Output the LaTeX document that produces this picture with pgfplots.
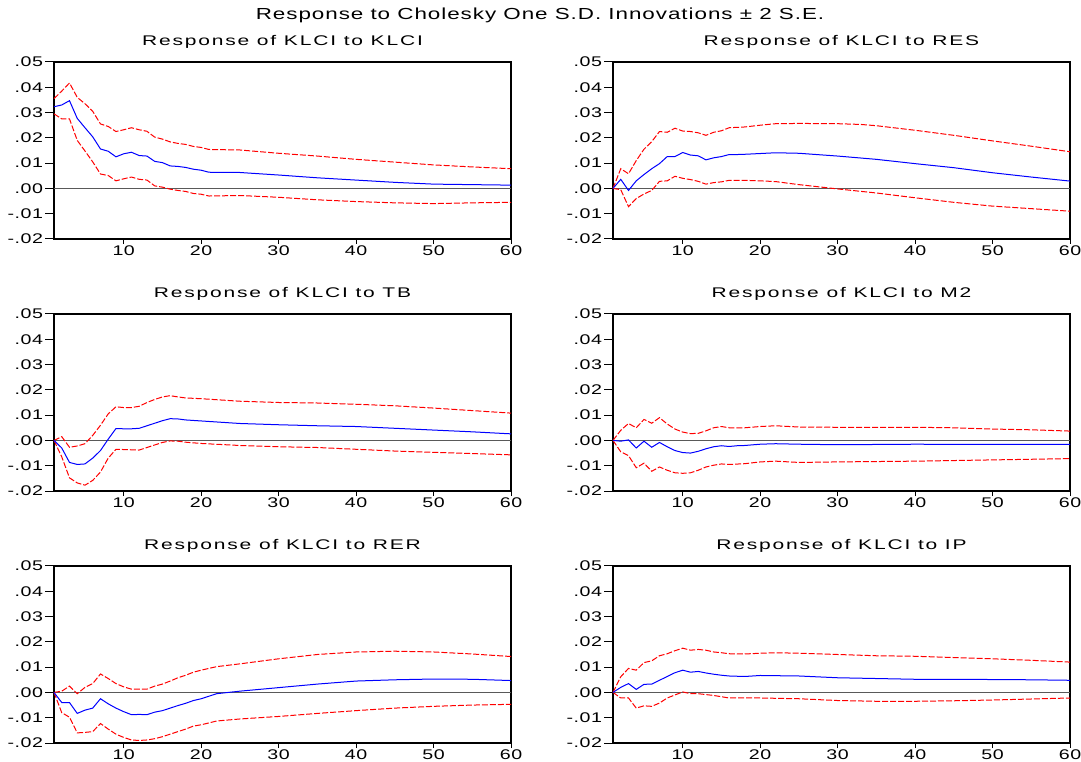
\documentclass[border=0pt]{standalone}
\usepackage{pgfplots}
\pgfplotsset{compat=1.18}
\usepackage{fontspec}
\setmainfont{Liberation Sans}
% the EViews text is set wide: stretch it
\newfontfamily\maintitlefont[FakeStretch=1.4,LetterSpace=6]{Liberation Sans}
\newfontfamily\paneltitlefont[FakeStretch=1.5,LetterSpace=13]{Liberation Sans}
\newfontfamily\tickfont[FakeStretch=1.4,LetterSpace=4]{Liberation Sans}

\pgfplotsset{
  irf/.style={
    scale only axis,
    width=228.5pt, height=88.5pt,
    xmin=1, xmax=60, ymin=-0.02, ymax=0.05,
    scaled y ticks=false,
    xtick={10,20,30,40,50,60},
    xticklabels={10,20,30,40,50,60},
    ytick={-0.02,-0.01,0,0.01,0.02,0.03,0.04,0.05},
    yticklabels={-.02,-.01,.00,.01,.02,.03,.04,.05},
    tick pos=left,
    tick align=outside,
    major tick length=4.3pt,
    xtick style={/pgfplots/major tick length=2.5pt},
    axis line style={line width=0.8pt},
    every tick/.style={black, line width=0.5pt},
    ticklabel style={font=\tickfont\fontsize{7}{8}\selectfont},
    xticklabel style={inner sep=0.5pt, yshift=1.5pt},
    yticklabel style={inner sep=1pt},
    title style={font=\paneltitlefont\fontsize{7}{8}\selectfont, yshift=-2.5pt},
    clip=false,
    anchor=south west,
  },
  resp/.style={blue, line width=0.5pt},
  band/.style={red, line width=0.5pt, dash pattern=on 3pt off 1pt},
  zero/.style={black!65, line width=0.45pt},
}

\begin{document}
\begin{tikzpicture}
\useasboundingbox (0,0) rectangle (540.5pt,380.5pt);
\node[font=\maintitlefont\fontsize{8}{10}\selectfont] at (270pt,373pt) {Response to Cholesky One S.D. Innovations ± 2 S.E.};

% row 1 left
\begin{axis}[irf, at={(27pt,261pt)}, title={Response of KLCI to KLCI}]
\addplot[zero] coordinates {(1,0) (60,0)};
\addplot[band] coordinates {(1,0.0355) (2,0.0385) (3,0.0417) (4,0.036) (5,0.0335) (6,0.0305) (7,0.0255) (8,0.0245) (9,0.0225) (10,0.0232) (11,0.024) (12,0.0232) (13,0.0226) (14,0.0203) (15,0.0195) (16,0.0184) (17,0.0178) (18,0.0174) (19,0.0166) (20,0.0162) (21,0.0154) (25,0.0152) (30,0.0139) (35,0.0128) (40,0.0115) (45,0.0104) (50,0.0093) (55,0.0085) (60,0.0078)};
\addplot[band] coordinates {(1,0.0295) (2,0.0275) (3,0.0275) (4,0.019) (5,0.0148) (6,0.0105) (7,0.0057) (8,0.0051) (9,0.003) (10,0.0038) (11,0.0045) (12,0.0036) (13,0.0033) (14,0.001) (15,0.0005) (16,-0.0003) (17,-0.0008) (18,-0.0012) (19,-0.002) (20,-0.0023) (21,-0.003) (25,-0.0028) (30,-0.0035) (35,-0.0045) (40,-0.0052) (45,-0.0057) (50,-0.006) (55,-0.0057) (60,-0.0055)};
\addplot[resp] coordinates {(1,0.0323) (2,0.033) (3,0.0347) (4,0.0277) (5,0.024) (6,0.0204) (7,0.0156) (8,0.0147) (9,0.0125) (10,0.0137) (11,0.0143) (12,0.013) (13,0.0128) (14,0.0107) (15,0.0102) (16,0.0089) (17,0.0087) (18,0.0083) (19,0.0076) (20,0.0072) (21,0.0064) (25,0.0063) (30,0.0053) (35,0.0042) (40,0.0033) (45,0.0024) (50,0.0017) (55,0.0015) (60,0.0013)};
\end{axis}

% row 1 right
\begin{axis}[irf, at={(306.5pt,261pt)}, title={Response of KLCI to RES}]
\addplot[zero] coordinates {(1,0) (60,0)};
\addplot[band] coordinates {(1,0) (2,0.0078) (3,0.0058) (4,0.011) (5,0.0155) (6,0.0185) (7,0.0225) (8,0.0222) (9,0.0238) (10,0.0227) (11,0.0225) (12,0.022) (13,0.021) (14,0.0222) (15,0.0228) (16,0.024) (18,0.0243) (20,0.025) (22,0.0256) (25,0.0257) (30,0.0256) (33,0.0253) (35,0.0248) (40,0.023) (45,0.021) (50,0.0188) (55,0.0167) (60,0.0145)};
\addplot[band] coordinates {(1,0) (2,-0.0005) (3,-0.0072) (4,-0.004) (5,-0.0022) (6,-0.0008) (7,0.0028) (8,0.003) (9,0.0048) (10,0.004) (11,0.0035) (12,0.0028) (13,0.0017) (14,0.0023) (15,0.0026) (16,0.0032) (18,0.0032) (20,0.003) (22,0.0027) (25,0.0015) (30,-0.0002) (35,-0.0018) (40,-0.0037) (45,-0.0055) (50,-0.007) (55,-0.008) (60,-0.009)};
\addplot[resp] coordinates {(1,0) (2,0.0036) (3,-0.0008) (4,0.003) (5,0.0055) (6,0.0078) (7,0.0098) (8,0.0126) (9,0.0126) (10,0.0142) (11,0.0132) (12,0.0129) (13,0.0113) (14,0.0121) (15,0.0126) (16,0.0134) (17,0.0134) (18,0.0135) (20,0.0138) (22,0.0141) (25,0.0139) (30,0.0128) (35,0.0115) (40,0.0098) (45,0.0082) (50,0.0062) (55,0.0045) (60,0.0029)};
\end{axis}

% row 2 left
\begin{axis}[irf, at={(27pt,135pt)}, title={Response of KLCI to TB}]
\addplot[zero] coordinates {(1,0) (60,0)};
\addplot[band] coordinates {(1,0) (2,0.0015) (3,-0.0027) (4,-0.0022) (5,-0.0013) (6,0.002) (7,0.006) (8,0.0105) (9,0.0133) (10,0.013) (11,0.013) (12,0.0135) (13,0.015) (14,0.0162) (15,0.0172) (16,0.0177) (17,0.0172) (18,0.0168) (20,0.0165) (25,0.0155) (30,0.015) (35,0.0148) (40,0.0143) (45,0.0137) (50,0.0128) (55,0.0118) (60,0.0108)};
\addplot[band] coordinates {(1,0) (2,-0.0065) (3,-0.0148) (4,-0.0168) (5,-0.0177) (6,-0.0158) (7,-0.0125) (8,-0.007) (9,-0.0035) (10,-0.0036) (11,-0.0037) (12,-0.0038) (13,-0.0028) (14,-0.0018) (15,-0.0008) (16,-0.0002) (17,-0.0003) (18,-0.0007) (20,-0.0012) (25,-0.002) (30,-0.0025) (35,-0.0028) (40,-0.0035) (45,-0.0042) (50,-0.0047) (55,-0.0052) (60,-0.0057)};
\addplot[resp] coordinates {(1,0) (2,-0.003) (3,-0.0087) (4,-0.0095) (5,-0.0093) (6,-0.007) (7,-0.004) (8,0.0005) (9,0.0047) (10,0.0046) (11,0.0046) (12,0.0048) (13,0.0058) (14,0.0068) (15,0.0078) (16,0.0086) (17,0.0085) (18,0.0081) (20,0.0077) (25,0.0067) (30,0.0062) (35,0.0058) (40,0.0055) (45,0.0048) (50,0.0041) (55,0.0034) (60,0.0026)};
\end{axis}

% row 2 right
\begin{axis}[irf, at={(306.5pt,135pt)}, title={Response of KLCI to M2}]
\addplot[zero] coordinates {(1,0) (60,0)};
\addplot[band] coordinates {(1,0) (2,0.004) (3,0.0067) (4,0.005) (5,0.0083) (6,0.0068) (7,0.009) (8,0.0065) (9,0.0045) (10,0.0033) (11,0.0027) (12,0.0028) (13,0.0038) (14,0.005) (15,0.0055) (16,0.005) (18,0.005) (20,0.0055) (22,0.0058) (25,0.0053) (30,0.0052) (40,0.0052) (45,0.005) (50,0.0045) (55,0.0042) (60,0.0037)};
\addplot[band] coordinates {(1,0) (2,-0.0045) (3,-0.006) (4,-0.0108) (5,-0.009) (6,-0.0122) (7,-0.0105) (8,-0.0118) (9,-0.0128) (10,-0.013) (11,-0.0128) (12,-0.0118) (13,-0.0105) (14,-0.0098) (15,-0.0093) (16,-0.0095) (18,-0.0092) (20,-0.0085) (22,-0.0082) (25,-0.0087) (30,-0.0085) (40,-0.0082) (50,-0.0077) (60,-0.0072)};
\addplot[resp] coordinates {(1,0) (2,-0.0003) (3,0.0002) (4,-0.003) (5,-0.0003) (6,-0.0027) (7,-0.0008) (8,-0.0025) (9,-0.004) (10,-0.0048) (11,-0.005) (12,-0.0043) (13,-0.0033) (14,-0.0025) (15,-0.0021) (16,-0.0024) (17,-0.0021) (18,-0.002) (20,-0.0015) (22,-0.0013) (25,-0.0015) (30,-0.0017) (40,-0.0015) (50,-0.0016) (60,-0.0016)};
\end{axis}

% row 3 left
\begin{axis}[irf, at={(27pt,9pt)}, title={Response of KLCI to RER}]
\addplot[zero] coordinates {(1,0) (60,0)};
\addplot[band] coordinates {(1,0) (2,0.0005) (3,0.0025) (4,-0.0005) (5,0.002) (6,0.0035) (7,0.0073) (8,0.0055) (9,0.0035) (10,0.0022) (11,0.0013) (12,0.0013) (13,0.0013) (14,0.0025) (15,0.0033) (16,0.0045) (17,0.0058) (18,0.0068) (19,0.008) (20,0.0088) (22,0.0102) (25,0.0113) (30,0.0133) (35,0.015) (40,0.016) (45,0.0163) (50,0.016) (55,0.0152) (60,0.0142)};
\addplot[band] coordinates {(1,0) (2,-0.008) (3,-0.0098) (4,-0.016) (5,-0.0158) (6,-0.0155) (7,-0.0123) (8,-0.0145) (9,-0.0165) (10,-0.0178) (11,-0.0188) (12,-0.019) (13,-0.0188) (14,-0.0183) (15,-0.0175) (16,-0.0165) (17,-0.0155) (18,-0.0145) (19,-0.0133) (20,-0.0128) (22,-0.0113) (25,-0.0105) (30,-0.0095) (35,-0.0083) (40,-0.0072) (45,-0.0062) (50,-0.0055) (55,-0.005) (60,-0.0047)};
\addplot[resp] coordinates {(1,0) (2,-0.004) (3,-0.004) (4,-0.0083) (5,-0.007) (6,-0.0062) (7,-0.0025) (8,-0.0045) (9,-0.0062) (10,-0.0076) (11,-0.0088) (12,-0.0087) (13,-0.0088) (14,-0.0078) (15,-0.0072) (16,-0.0062) (17,-0.0052) (18,-0.0043) (19,-0.0032) (20,-0.0025) (21,-0.0015) (22,-0.0005) (25,0.0005) (30,0.0019) (35,0.0033) (40,0.0045) (45,0.005) (50,0.0053) (55,0.0052) (60,0.0047)};
\end{axis}

% row 3 right
\begin{axis}[irf, at={(306.5pt,9pt)}, title={Response of KLCI to IP}]
\addplot[zero] coordinates {(1,0) (60,0)};
\addplot[band] coordinates {(1,0) (2,0.0062) (3,0.0095) (4,0.0088) (5,0.0118) (6,0.0125) (7,0.0145) (8,0.0153) (9,0.0165) (10,0.0175) (11,0.0167) (12,0.017) (13,0.0167) (14,0.016) (15,0.0157) (16,0.0153) (18,0.0152) (20,0.0155) (22,0.0157) (25,0.0155) (30,0.015) (35,0.0145) (40,0.0143) (45,0.0138) (50,0.0133) (55,0.0127) (60,0.012)};
\addplot[band] coordinates {(1,0) (2,-0.0022) (3,-0.0022) (4,-0.0062) (5,-0.0053) (6,-0.0055) (7,-0.0042) (8,-0.0022) (9,-0.001) (10,0.0002) (11,-0.0005) (12,-0.0005) (14,-0.0012) (16,-0.0022) (20,-0.0022) (25,-0.0025) (30,-0.0032) (35,-0.0035) (40,-0.0035) (45,-0.0033) (50,-0.003) (55,-0.0026) (60,-0.0022)};
\addplot[resp] coordinates {(1,0) (2,0.002) (3,0.0035) (4,0.0012) (5,0.0032) (6,0.0033) (7,0.0048) (8,0.0063) (9,0.0078) (10,0.0088) (11,0.008) (12,0.0083) (13,0.0077) (14,0.0072) (15,0.0068) (16,0.0065) (18,0.0063) (20,0.0067) (25,0.0065) (30,0.0058) (35,0.0055) (40,0.0052) (45,0.0052) (50,0.0051) (55,0.005) (60,0.0048)};
\end{axis}
\end{tikzpicture}
\end{document}
